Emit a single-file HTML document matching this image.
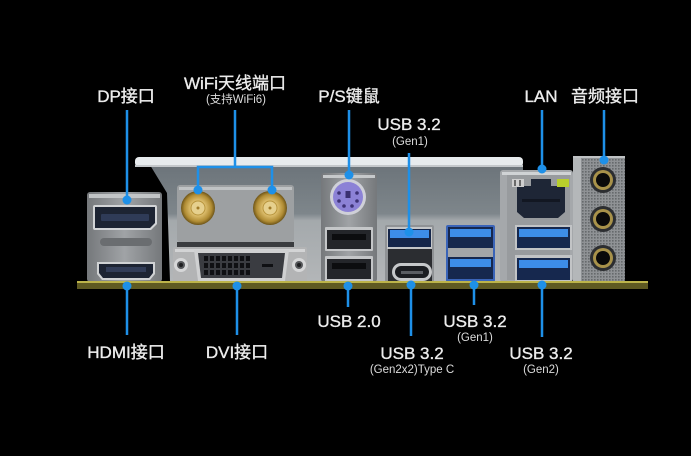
<!DOCTYPE html>
<html><head><meta charset="utf-8">
<style>
html,body{margin:0;padding:0;background:#000;}
svg{display:block;}
text{font-family:"Liberation Sans","Noto Sans CJK SC",sans-serif;fill:#ececec;}
.lb{font-size:17px;stroke:#ececec;stroke-width:0.35;}
.sb{font-size:11.5px;fill:#dcdcdc;}
.ln{stroke:#1e90e8;stroke-width:2.5;fill:none;}
.dt{fill:#1e90e8;}
</style></head><body>
<svg width="691" height="456" viewBox="0 0 691 456" xmlns="http://www.w3.org/2000/svg">
<defs>
<linearGradient id="shield" x1="0" y1="0" x2="0" y2="1">
 <stop offset="0" stop-color="#6c747a"/>
 <stop offset="0.42" stop-color="#7e868b"/>
 <stop offset="0.48" stop-color="#a4a9ac"/>
 <stop offset="1" stop-color="#b3b6b8"/>
</linearGradient>
<linearGradient id="metal" x1="0" y1="0" x2="1" y2="0">
 <stop offset="0" stop-color="#75787b"/>
 <stop offset="0.5" stop-color="#a0a3a6"/>
 <stop offset="1" stop-color="#75787b"/>
</linearGradient>
<linearGradient id="metalv" x1="0" y1="0" x2="0" y2="1">
 <stop offset="0" stop-color="#b9bcbe"/>
 <stop offset="1" stop-color="#8a8d90"/>
</linearGradient>
<radialGradient id="gold" cx="0.5" cy="0.5" r="0.5">
 <stop offset="0" stop-color="#f3e2a8"/>
 <stop offset="0.45" stop-color="#dcbd6c"/>
 <stop offset="0.8" stop-color="#b08c34"/>
 <stop offset="1" stop-color="#6d5418"/>
</radialGradient>
<pattern id="dots" width="3" height="3" patternUnits="userSpaceOnUse">
 <rect width="3" height="3" fill="#8f9295"/>
 <rect width="1.6" height="1.6" fill="#66696c"/>
</pattern>
</defs>

<!-- I/O shield -->
<polygon points="150,165 523,165 523,281 170,281 167,193" fill="url(#shield)"/>
<rect x="135" y="157" width="388" height="10" rx="4" fill="#e7ebed"/>
<rect x="135" y="165" width="388" height="2" fill="#c4c8cb"/>

<!-- DP / HDMI block -->
<rect x="87" y="192" width="75" height="90" rx="3" fill="url(#metal)"/>
<rect x="89" y="194" width="71" height="4" fill="#c2c5c7"/>
<path d="M93,207 Q93,205 95,205 L155,205 Q157,205 157,207 L157,224 L151,230 L95,230 Q93,230 93,228 Z" fill="#d2d4d6"/>
<path d="M95,207 L155,207 L155,223 L150,228 L95,228 Z" fill="#1d2433"/>
<rect x="101" y="214" width="48" height="7" rx="1" fill="#2f3b57"/>
<rect x="100" y="238" width="52" height="8" rx="4" fill="#6a6d70"/>
<path d="M97,262 L155,262 L155,274 L150,280 L102,280 L97,274 Z" fill="#d0d2d4"/>
<path d="M99,264 L153,264 L153,273 L149,278 L103,278 L99,273 Z" fill="#1d2433"/>
<rect x="106" y="267" width="40" height="5" fill="#323d58"/>

<!-- WiFi plate -->
<rect x="177" y="185" width="117" height="57" rx="3" fill="#9da0a2"/>
<rect x="179" y="187" width="113" height="3" fill="#c0c3c5"/>
<rect x="177" y="242" width="117" height="5" fill="#3a3c3f"/>
<circle cx="198" cy="208" r="17" fill="url(#gold)"/>
<circle cx="198" cy="208" r="7" fill="#e6d08e" stroke="#b8953e" stroke-width="1"/>
<circle cx="198" cy="208" r="1.5" fill="#a07a28"/>
<circle cx="270" cy="208" r="17" fill="url(#gold)"/>
<circle cx="270" cy="208" r="7" fill="#e6d08e" stroke="#b8953e" stroke-width="1"/>
<circle cx="270" cy="208" r="1.5" fill="#a07a28"/>

<!-- DVI -->
<rect x="173" y="247" width="134" height="35" rx="2" fill="#b3b4b5"/>
<rect x="175" y="249" width="130" height="3" fill="#d3d4d5"/>
<circle cx="181" cy="265" r="7" fill="#d6d7d8"/>
<circle cx="181" cy="265" r="4" fill="#55575a"/>
<circle cx="181" cy="265" r="2" fill="#1e1f21"/>
<circle cx="299" cy="265" r="7" fill="#d6d7d8"/>
<circle cx="299" cy="265" r="4" fill="#55575a"/>
<circle cx="299" cy="265" r="2" fill="#1e1f21"/>
<path d="M194,250 L289,250 L285,281 L198,281 Z" fill="#cfd0d1"/>
<path d="M198,253 L285,253 L282,278 L201,278 Z" fill="#3a3c41"/>
<g fill="#0f1013">
<rect x="204" y="256" width="4" height="5"/><rect x="210" y="256" width="4" height="5"/><rect x="216" y="256" width="4" height="5"/><rect x="222" y="256" width="4" height="5"/><rect x="228" y="256" width="4" height="5"/><rect x="234" y="256" width="4" height="5"/><rect x="240" y="256" width="4" height="5"/><rect x="246" y="256" width="4" height="5"/>
<rect x="204" y="263" width="4" height="5"/><rect x="210" y="263" width="4" height="5"/><rect x="216" y="263" width="4" height="5"/><rect x="222" y="263" width="4" height="5"/><rect x="228" y="263" width="4" height="5"/><rect x="234" y="263" width="4" height="5"/><rect x="240" y="263" width="4" height="5"/><rect x="246" y="263" width="4" height="5"/>
<rect x="204" y="270" width="4" height="5"/><rect x="210" y="270" width="4" height="5"/><rect x="216" y="270" width="4" height="5"/><rect x="222" y="270" width="4" height="5"/><rect x="228" y="270" width="4" height="5"/><rect x="234" y="270" width="4" height="5"/><rect x="240" y="270" width="4" height="5"/><rect x="246" y="270" width="4" height="5"/>
<rect x="262" y="264" width="11" height="3"/>
</g>

<!-- PS/2 + USB2 block -->
<rect x="321" y="173" width="56" height="109" rx="3" fill="url(#metal)"/>
<rect x="323" y="175" width="52" height="3" fill="#c6c9cb"/>
<circle cx="348" cy="197" r="18" fill="#cfd0d8"/>
<circle cx="348" cy="197" r="15" fill="#8c82d6"/>
<rect x="345.5" y="191" width="5" height="7" fill="#3a3070"/>
<circle cx="339" cy="193" r="1.8" fill="#3d3275"/><circle cx="357" cy="193" r="1.8" fill="#3d3275"/>
<circle cx="339" cy="201" r="1.8" fill="#3d3275"/><circle cx="357" cy="201" r="1.8" fill="#3d3275"/>
<circle cx="344" cy="206" r="1.8" fill="#3d3275"/><circle cx="352" cy="206" r="1.8" fill="#3d3275"/>
<rect x="325" y="227" width="48" height="24" rx="1" fill="#c4c6c8"/>
<rect x="327" y="230" width="44" height="19" fill="#24262a"/>
<rect x="332" y="234" width="34" height="6" fill="#0c0d0f"/>
<rect x="325" y="256" width="48" height="26" rx="1" fill="#c4c6c8"/>
<rect x="327" y="259" width="44" height="20" fill="#24262a"/>
<rect x="332" y="263" width="34" height="6" fill="#0c0d0f"/>

<!-- USB3 + Type-C block -->
<rect x="385" y="225" width="49" height="57" rx="2" fill="#8f9295"/>
<rect x="387" y="227" width="45" height="22" fill="#c4c6c8"/>
<rect x="388" y="229" width="43" height="18" fill="#15264a"/>
<rect x="390" y="230" width="39" height="8" fill="#3d8de8"/>
<rect x="388" y="249" width="44" height="33" fill="#2b2d31"/>
<rect x="392" y="263" width="40" height="18" rx="9" fill="#c6c8ca"/>
<rect x="395" y="266" width="34" height="12" rx="6" fill="#1b1d21"/>
<rect x="401" y="271" width="22" height="3" fill="#5a5d62"/>

<!-- double USB3 block -->
<rect x="446" y="225" width="49" height="57" rx="2" fill="#3a64b8"/>
<rect x="448" y="227" width="45" height="21" fill="#16284e"/>
<rect x="450" y="229" width="41" height="8" fill="#3d8de8"/>
<rect x="448" y="248" width="45" height="9" fill="#a3a6a8"/>
<rect x="448" y="257" width="45" height="22" fill="#16284e"/>
<rect x="450" y="259" width="41" height="8" fill="#3d8de8"/>

<!-- LAN block -->
<rect x="500" y="170" width="73" height="112" rx="3" fill="#a5a8ab"/>
<rect x="502" y="172" width="69" height="3" fill="#d0d3d5"/>
<rect x="507" y="175" width="63" height="105" fill="#989b9e"/>
<path d="M517,186 L531,186 L531,179 L551,179 L551,186 L565,186 L565,212 L558,218 L524,218 L517,212 Z" fill="#1e2636"/>
<rect x="522" y="199" width="38" height="3" fill="#121722"/>
<rect x="512" y="179" width="12" height="8" fill="#cfcfcf"/>
<rect x="514" y="180" width="2" height="6" fill="#6a6a6a"/><rect x="519" y="180" width="2" height="6" fill="#6a6a6a"/>
<rect x="557" y="179" width="12" height="8" fill="#b8cf2c"/>
<rect x="515" y="225" width="57" height="25" fill="#c2c4c6"/>
<rect x="517" y="227" width="53" height="21" fill="#16284e"/>
<rect x="519" y="229" width="49" height="8" fill="#3d8de8"/>
<rect x="515" y="255" width="57" height="27" fill="#c2c4c6"/>
<rect x="517" y="258" width="53" height="22" fill="#16284e"/>
<rect x="519" y="260" width="49" height="8" fill="#3d8de8"/>

<!-- Audio block -->
<rect x="573" y="156" width="52" height="126" rx="2" fill="url(#dots)"/>
<rect x="573" y="156" width="8" height="126" fill="#b4b7b9"/>
<rect x="573" y="156" width="52" height="2" fill="#bfc2c4"/>
<circle cx="603" cy="180" r="13" fill="#2c2e31"/><circle cx="603" cy="180" r="10" fill="#a8924a"/><circle cx="603" cy="180" r="7" fill="#0a0a0a"/>
<circle cx="603" cy="219" r="13" fill="#2c2e31"/><circle cx="603" cy="219" r="10" fill="#a8924a"/><circle cx="603" cy="219" r="7" fill="#0a0a0a"/>
<circle cx="603" cy="258" r="13" fill="#2c2e31"/><circle cx="603" cy="258" r="10" fill="#a8924a"/><circle cx="603" cy="258" r="7" fill="#0a0a0a"/>

<!-- PCB strip -->
<rect x="77" y="281" width="571" height="8" fill="#5f5a22"/>
<rect x="77" y="281" width="571" height="2" fill="#bdb44a"/>

<!-- connector lines -->
<path class="ln" d="M127,110 V200"/>
<circle class="dt" cx="127" cy="200" r="4.5"/>
<path class="ln" d="M235,110 V167 M198,190 V167 H272 V190"/>
<circle class="dt" cx="198" cy="190" r="4.5"/>
<circle class="dt" cx="272" cy="190" r="4.5"/>
<path class="ln" d="M349,110 V175"/>
<circle class="dt" cx="349" cy="175" r="4.5"/>
<path class="ln" d="M409,153 V232"/>
<circle class="dt" cx="409" cy="232" r="4.5"/>
<path class="ln" d="M542,110 V169"/>
<circle class="dt" cx="542" cy="169" r="4.5"/>
<path class="ln" d="M604,110 V160"/>
<circle class="dt" cx="604" cy="160" r="4.5"/>

<path class="ln" d="M127,286 V335"/>
<circle class="dt" cx="127" cy="286" r="4.5"/>
<path class="ln" d="M237,286 V335"/>
<circle class="dt" cx="237" cy="286" r="4.5"/>
<path class="ln" d="M348,286 V307"/>
<circle class="dt" cx="348" cy="286" r="4.5"/>
<path class="ln" d="M411,285 V336"/>
<circle class="dt" cx="411" cy="285" r="4.5"/>
<path class="ln" d="M474,285 V305"/>
<circle class="dt" cx="474" cy="285" r="4.5"/>
<path class="ln" d="M542,285 V337"/>
<circle class="dt" cx="542" cy="285" r="4.5"/>

<!-- labels top -->
<text class="lb" x="126" y="102" text-anchor="middle">DP接口</text>
<text class="lb" x="235" y="89" text-anchor="middle">WiFi天线端口</text>
<text class="sb" x="236" y="103" text-anchor="middle" style="font-size:11.5px">(支持WiFi6)</text>
<text class="lb" x="349" y="102" text-anchor="middle">P/S键鼠</text>
<text class="lb" x="409" y="130" text-anchor="middle">USB 3.2</text>
<text class="sb" x="410" y="145" text-anchor="middle">(Gen1)</text>
<text class="lb" x="541" y="102" text-anchor="middle">LAN</text>
<text class="lb" x="605" y="102" text-anchor="middle">音频接口</text>

<!-- labels bottom -->
<text class="lb" x="126" y="358" text-anchor="middle">HDMI接口</text>
<text class="lb" x="237" y="358" text-anchor="middle">DVI接口</text>
<text class="lb" x="349" y="327" text-anchor="middle">USB 2.0</text>
<text class="lb" x="412" y="359" text-anchor="middle">USB 3.2</text>
<text class="sb" x="412" y="373" text-anchor="middle">(Gen2x2)Type C</text>
<text class="lb" x="475" y="327" text-anchor="middle">USB 3.2</text>
<text class="sb" x="475" y="341" text-anchor="middle">(Gen1)</text>
<text class="lb" x="541" y="359" text-anchor="middle">USB 3.2</text>
<text class="sb" x="541" y="373" text-anchor="middle">(Gen2)</text>
</svg>
</body></html>
